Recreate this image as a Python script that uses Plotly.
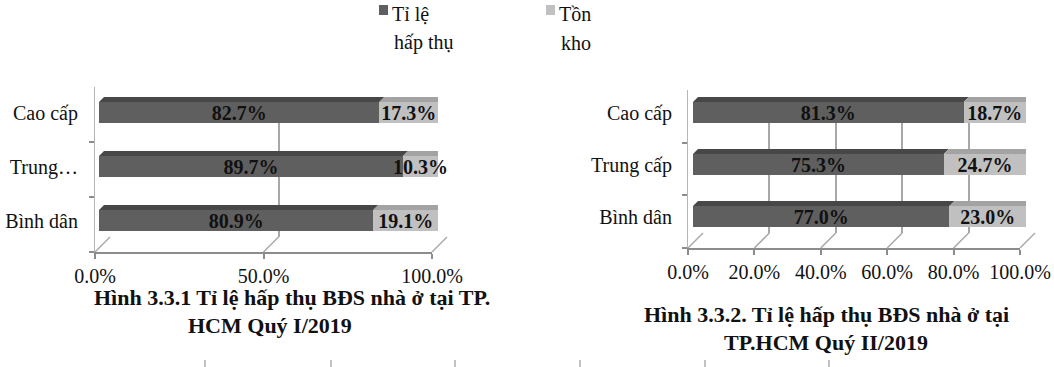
import plotly.graph_objects as go

# ---------------- data ----------------
categories = ["Cao cấp", "Trung cấp", "Bình dân"]
labels_q1 = ["Cao cấp", "Trung…", "Bình dân"]
labels_q2 = ["Cao cấp", "Trung cấp", "Bình dân"]
absorb_q1 = [82.7, 89.7, 80.9]
stock_q1 = [17.3, 10.3, 19.1]
absorb_q2 = [81.3, 75.3, 77.0]
stock_q2 = [18.7, 24.7, 23.0]
series_names = ["Tỉ lệ hấp thụ", "Tồn kho"]
legend_lines = [["Tỉ lệ", "hấp thụ"], ["Tồn", "kho"]]
ticks_q1 = [0, 50, 100]
ticks_q2 = [0, 20, 40, 60, 80, 100]
title_q1 = ["Hình 3.3.1 Tỉ lệ hấp thụ BĐS nhà ở tại TP.", "HCM Quý I/2019"]
title_q2 = ["Hình 3.3.2. Tỉ lệ hấp thụ BĐS nhà ở tại", "TP.HCM Quý II/2019"]

# ---------------- style ----------------
W, H = 1054, 367
FONT = "Liberation Serif"
DARK, DARK_TOP = "#5f5f5f", "#474747"
LIGHT, LIGHT_TOP, LIGHT_SIDE = "#c0c0c0", "#a3a3a3", "#777777"
GRID = "#a8a8a8"
AXIS = "#8c8c8c"


def px(x):
    return x / W


def py(y):
    return 1 - y / H


def dom_x(a, b):
    return [px(a), px(b)]


def dom_y(top, bottom):
    return [py(bottom), py(top)]


fig = go.Figure()

charts = [
    dict(absorb=absorb_q1, stock=stock_q1, labels=labels_q1, ticks=ticks_q1,
         back=("x", "y"), front=("x3", "y3"), bars=("x5", "y5"),
         back_x=(110, 447), back_y=(97, 237),
         front_x=(95, 432), front_y=(87, 252),
         bar_x=(99, 438), bar_y=(85.5, 247.5), bar_w=0.39),
    dict(absorb=absorb_q2, stock=stock_q2, labels=labels_q2, ticks=ticks_q2,
         back=("x2", "y2"), front=("x4", "y4"), bars=("x6", "y6"),
         back_x=(703, 1035), back_y=(97, 233),
         front_x=(688, 1020), front_y=(90, 248),
         bar_x=(693, 1026), bar_y=(86.5, 242.5), bar_w=0.40),
]


def axname(a):
    return "xaxis" + a[1:] if a.startswith("x") else "yaxis" + a[1:]


shapes = []
layout_axes = {}

for c in charts:
    bx, by = c["back"]
    fx, fy = c["front"]
    cx, cy = c["bars"]
    n = len(categories)

    # back wall grid subplot
    fig.add_trace(go.Scatter(x=[], y=[], xaxis=bx, yaxis=by, showlegend=False, hoverinfo="skip"))
    layout_axes[axname(bx)] = dict(domain=dom_x(*c["back_x"]), range=[0, 100], anchor=by,
                                   showgrid=True, gridcolor=GRID, gridwidth=1.5,
                                   tickvals=c["ticks"], showticklabels=False, ticks="",
                                   zeroline=False, showline=False, fixedrange=True)
    layout_axes[axname(by)] = dict(domain=dom_y(*c["back_y"]), range=[0, 1], anchor=bx,
                                   showgrid=False, showticklabels=False, zeroline=False,
                                   showline=False, fixedrange=True)

    # front axes subplot
    fig.add_trace(go.Scatter(x=[], y=[], xaxis=fx, yaxis=fy, showlegend=False, hoverinfo="skip"))
    layout_axes[axname(fx)] = dict(domain=dom_x(*c["front_x"]), range=[0, 100], anchor=fy,
                                   showgrid=False, zeroline=False, showline=True,
                                   linecolor=AXIS, linewidth=1.5,
                                   ticks="outside", ticklen=5, tickcolor=AXIS, tickwidth=1.5,
                                   tickvals=c["ticks"],
                                   ticktext=[f"{t:.1f}%" for t in c["ticks"]],
                                   tickfont=dict(family=FONT, size=20, color="#111"),
                                   fixedrange=True)
    layout_axes[axname(fy)] = dict(domain=dom_y(*c["front_y"]), range=[n - 0.5, -0.5], anchor=fx,
                                   showgrid=False, zeroline=False, showline=True,
                                   linecolor="#b5b5b5", linewidth=1.2,
                                   ticks="outside", ticklen=5, tickcolor=AXIS, tickwidth=1.5,
                                   tickvals=[i + 0.5 for i in range(n)],
                                   ticktext=["" for _ in range(n)], fixedrange=True)

    # floor diagonals from back grid to front axis
    for t in c["ticks"]:
        xb = c["back_x"][0] + t / 100 * (c["back_x"][1] - c["back_x"][0])
        xf = c["front_x"][0] + t / 100 * (c["front_x"][1] - c["front_x"][0])
        shapes.append(dict(type="line", xref="paper", yref="paper",
                           x0=px(xb), y0=py(c["back_y"][1]), x1=px(xf), y1=py(c["front_y"][1]),
                           line=dict(color=GRID, width=1.5), layer="below"))

    # bars
    ys = list(range(n))
    fig.add_trace(go.Bar(
        x=c["absorb"], y=ys, orientation="h", name=series_names[0], xaxis=cx, yaxis=cy,
        width=c["bar_w"], marker=dict(color=DARK, line=dict(width=0)),
        text=[f"{v:.1f}%" for v in c["absorb"]], textposition="inside",
        insidetextanchor="middle", textangle=0,
        textfont=dict(family=FONT, size=20, color="#111", weight="bold"),
        showlegend=False, hoverinfo="skip"))
    fig.add_trace(go.Bar(
        x=c["stock"], y=ys, orientation="h", name=series_names[1], xaxis=cx, yaxis=cy,
        width=c["bar_w"], marker=dict(color=LIGHT, line=dict(width=0)),
        text=[f"{v:.1f}%" for v in c["stock"]], textposition="inside",
        insidetextanchor="middle", textangle=0, cliponaxis=False,
        textfont=dict(family=FONT, size=20, color="#111", weight="bold"),
        showlegend=False, hoverinfo="skip"))

    bar_px_w = c["bar_x"][1] - c["bar_x"][0]
    cat_px = (c["bar_y"][1] - c["bar_y"][0]) / n
    dx = 5 / bar_px_w * 100
    dy = 5 / cat_px
    h = c["bar_w"] / 2
    layout_axes[axname(cx)] = dict(domain=dom_x(*c["bar_x"]), range=[0, 100], anchor=cy,
                                   visible=False, fixedrange=True)
    layout_axes[axname(cy)] = dict(domain=dom_y(*c["bar_y"]), range=[n - 0.5, -0.5], anchor=cx,
                                   showgrid=False, zeroline=False, showline=False, ticks="",
                                   tickvals=ys, ticktext=c["labels"], ticklabelstandoff=20,
                                   tickfont=dict(family=FONT, size=20, color="#111"),
                                   fixedrange=True)

    # 3-D faces derived from the data values
    for i, (a, b) in enumerate(zip(c["absorb"], c["stock"])):
        top = i - h
        tot = a + b
        shapes.append(dict(type="path", xref=cx, yref=cy, layer="above",
                           path=f"M 0,{top} L {dx},{top - dy} L {a + dx},{top - dy} L {a},{top} Z",
                           fillcolor=DARK_TOP, line=dict(width=0)))
        shapes.append(dict(type="path", xref=cx, yref=cy, layer="above",
                           path=f"M {a},{top} L {a + dx},{top - dy} L {tot + dx},{top - dy} L {tot},{top} Z",
                           fillcolor=LIGHT_TOP, line=dict(width=0)))
        shapes.append(dict(type="path", xref=cx, yref=cy, layer="above",
                           path=f"M {tot},{top} L {tot + dx},{top - dy} L {tot + dx},{i + h - dy} L {tot},{i + h} Z",
                           fillcolor=LIGHT_SIDE, line=dict(width=0)))

for k in layout_axes:
    layout_axes[k]["automargin"] = False

# faint gridline fragments of a chart below (cropped at the bottom edge)
for xf in [205, 331, 455, 580, 705, 829]:
    shapes.append(dict(type="line", xref="paper", yref="paper",
                       x0=px(xf), x1=px(xf), y0=py(367), y1=py(360),
                       line=dict(color="#9a9a9a", width=1.2)))

# legend (drawn manually to mimic the original layout)
annotations = []
legend_pos = [(379, 390), (546, 557)]
legend_cols = [DARK, LIGHT]
for (sx, tx), col, lines in zip(legend_pos, legend_cols, legend_lines):
    shapes.append(dict(type="rect", xref="paper", yref="paper",
                       x0=px(sx), x1=px(sx + 9), y0=py(15), y1=py(5),
                       fillcolor=col, line=dict(width=0)))
    for k, line in enumerate(lines):
        annotations.append(dict(xref="paper", yref="paper", x=px(tx + (2 if k else 0)),
                                y=py(14 + 29 * k), xanchor="left", yanchor="middle",
                                text=line, showarrow=False,
                                font=dict(family=FONT, size=20, color="#111")))

# titles
for lines, cxs, cys in [(title_q1, [292, 270], [297, 325]), (title_q2, [826, 826], [314, 342])]:
    for line, x, y in zip(lines, cxs, cys):
        annotations.append(dict(xref="paper", yref="paper", x=px(x), y=py(y),
                                xanchor="center", yanchor="middle", text=f"<b>{line}</b>",
                                showarrow=False, font=dict(family=FONT, size=22, color="#111")))

fig.update_layout(
    template="none",
    width=W, height=H, margin=dict(l=0, r=0, t=0, b=0, autoexpand=False),
    paper_bgcolor="white", plot_bgcolor="rgba(0,0,0,0)",
    barmode="stack", showlegend=False,
    uniformtext=dict(minsize=20, mode="show"),
    shapes=shapes, annotations=annotations,
    **layout_axes,
)

fig.write_html(
    "out.html",
    config={"displayModeBar": False},
    post_script="document.body.style.margin='0';document.body.style.overflow='hidden';",
)
